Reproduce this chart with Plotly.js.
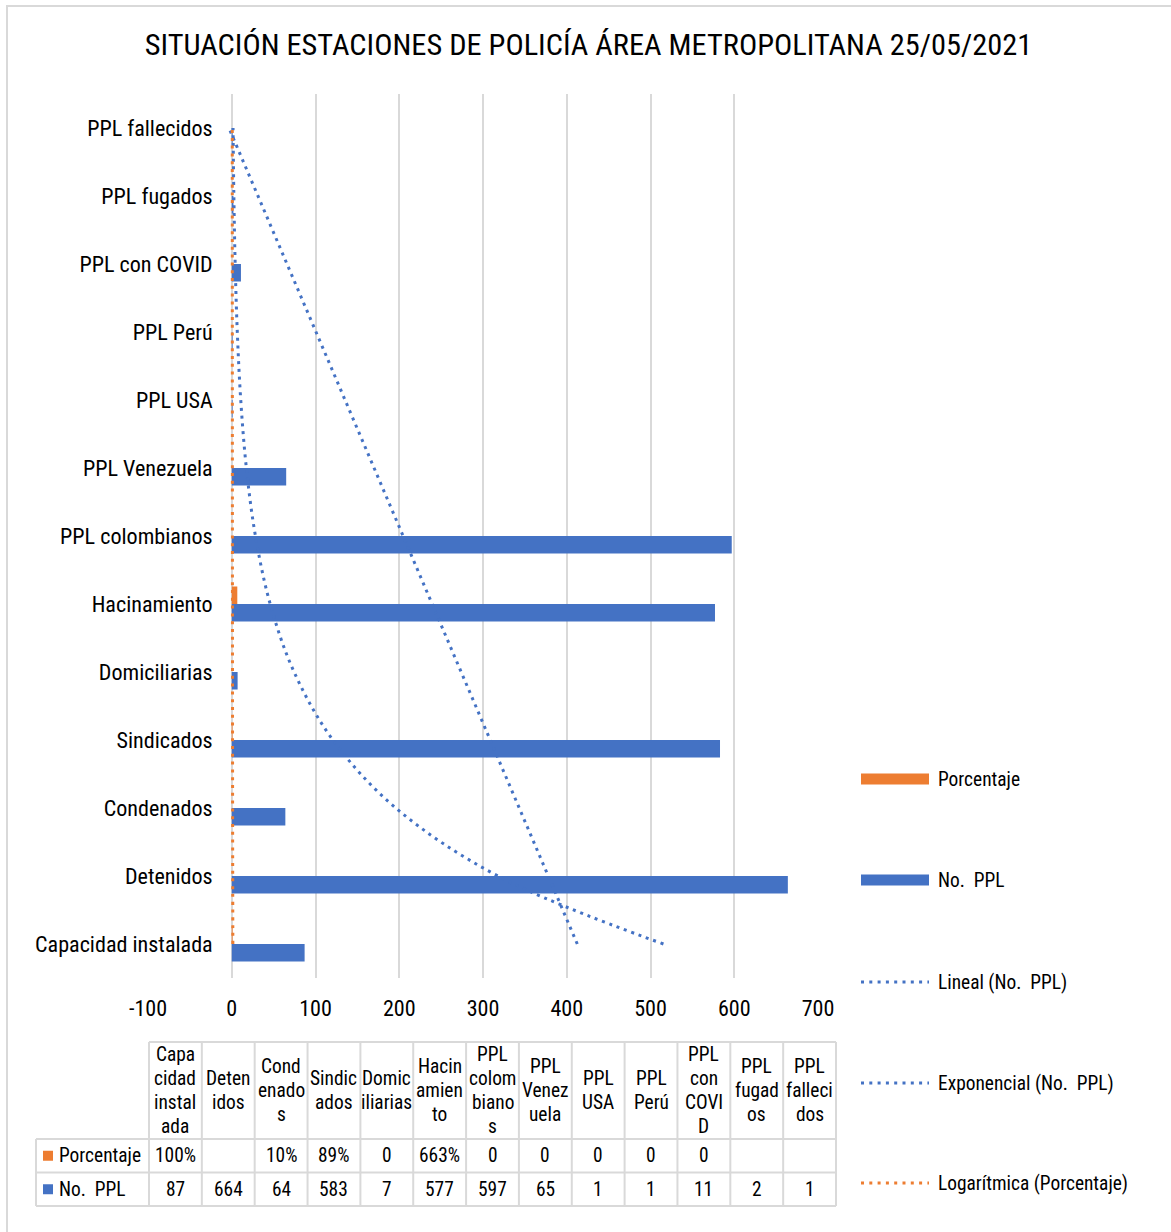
<!DOCTYPE html>
<html><head><meta charset="utf-8">
<script src="https://cdn.plot.ly/plotly-3.0.1.min.js"></script>
<style>html,body{margin:0;padding:0;background:#fff;} #chart{width:1171px;height:1232px;}</style>
</head><body><div id="chart"></div>
<script>
// ---------- data ----------
const categories = ["Capacidad instalada","Detenidos","Condenados","Sindicados","Domiciliarias","Hacinamiento","PPL colombianos","PPL Venezuela","PPL USA","PPL Perú","PPL con COVID","PPL fugados","PPL fallecidos"];
const noPPL = [87,664,64,583,7,577,597,65,1,1,11,2,1];
const porcentaje = [1,null,0.10,0.89,0,6.63,0,0,0,0,0,null,null];
const headerLines = [["Capa","cidad","instal","ada"],["Deten","idos"],["Cond","enado","s"],["Sindic","ados"],["Domic","iliarias"],["Hacin","amien","to"],["PPL","colom","biano","s"],["PPL","Venez","uela"],["PPL","USA"],["PPL","Perú"],["PPL","con","COVI","D"],["PPL","fugad","os"],["PPL","falleci","dos"]];
const xTicks = [-100,0,100,200,300,400,500,600,700];
const seriesNames = ["Porcentaje","No.\u00a0 PPL"];
const trendNames = ["Lineal (No.\u00a0 PPL)","Exponencial (No.\u00a0 PPL)","Logarítmica (Porcentaje)"];
const chartTitle = "SITUACIÓN ESTACIONES DE POLICÍA ÁREA METROPOLITANA 25/05/2021";

// ---------- font selection (a narrow sans face) ----------
const ctx = document.createElement("canvas").getContext("2d");
function wOf(font, s){ ctx.font = font; return ctx.measureText(s).width; }
function hasFont(f){
  const s = "Capacidad instalada 0123 WMiq";
  return wOf("40px '"+f+"', monospace", s) !== wOf("40px monospace", s) &&
         wOf("40px '"+f+"', serif", s) !== wOf("40px serif", s);
}
const candidates = ["Liberation Sans Narrow","Arial Narrow","Roboto Condensed","Noto Sans Condensed","Open Sans Condensed","Liberation Sans","Arial"];
let FACE = "Liberation Sans";
for (const c of candidates){ if (hasFont(c)){ FACE = c; break; } }
const FONT = "'"+FACE+"', sans-serif";
// scale sizes so that text widths match the reference
const SC = Math.min(1.15, Math.max(0.7, 178 / wOf("24px '"+FACE+"', sans-serif", "Capacidad instalada")));
const SCT = Math.min(1.3, Math.max(0.7, 887 / wOf("30px '"+FACE+"', sans-serif", chartTitle)));
const fs = s => Math.round(s*SC*10)/10;

// ---------- styles ----------
const BLUE = "#4472C4", ORANGE = "#ED7D31", GRID = "#d9d9d9", TXT = "#000000";
const W = 1171, H = 1232, L = 148, R = 818, T = 94, B = 978;
const px = v => (v - L) / (R - L);
const py = v => (B - v) / (B - T);

// ---------- trendlines (least squares, as the spreadsheet does) ----------
function fit(xs, ys){
  const n = xs.length;
  const mx = xs.reduce((a,b)=>a+b,0)/n, my = ys.reduce((a,b)=>a+b,0)/n;
  let sxy = 0, sxx = 0;
  for (let i=0;i<n;i++){ sxy += (xs[i]-mx)*(ys[i]-my); sxx += (xs[i]-mx)*(xs[i]-mx); }
  const b = sxy/sxx; return {a: my - b*mx, b};
}
const idx = categories.map((c,i)=>i+1);
const lin = fit(idx, noPPL);
const linY = idx.map(x => lin.a + lin.b*x);
const ex = fit(idx, noPPL.map(v=>Math.log(v)));
const expY = idx.map(x => Math.exp(ex.a + ex.b*x));
const pX = [], pY = [];
porcentaje.forEach((v,i)=>{ if (v !== null){ pX.push(Math.log(i+1)); pY.push(v);} });
const lg = fit(pX, pY);
const logY = idx.map(x => lg.a + lg.b*Math.log(x));

const DOT = "3px,4.8px";
const traces = [
  {type:"bar", orientation:"h", name:seriesNames[1], x:noPPL, y:categories, marker:{color:BLUE, line:{width:0}}, showlegend:false},
  {type:"bar", orientation:"h", name:seriesNames[0], x:porcentaje, y:categories, marker:{color:ORANGE, line:{width:0}}, showlegend:false},
  {type:"scatter", mode:"lines", name:trendNames[0], x:linY, y:categories, line:{color:BLUE, width:3, dash:DOT}, showlegend:false},
  {type:"scatter", mode:"lines", name:trendNames[1], x:expY, y:categories, line:{color:BLUE, width:3, dash:DOT, shape:"spline"}, showlegend:false},
  {type:"scatter", mode:"lines", name:trendNames[2], x:logY, y:categories, line:{color:ORANGE, width:3, dash:DOT, shape:"spline"}, showlegend:false}
];

// ---------- shapes & annotations (legend, data table, frame) ----------
const shapes = [], ann = [];
shapes.push({type:"rect", xref:"paper", yref:"paper", x0:px(7), x1:px(1185), y0:py(6), y1:py(1245), line:{color:GRID, width:2}, fillcolor:"rgba(0,0,0,0)", layer:"below"});

// legend
const legX0 = 861, legX1 = 929, legTX = 936;
const legY = [779, 880, 982, 1083, 1183];
const legNames = [seriesNames[0], seriesNames[1], trendNames[0], trendNames[1], trendNames[2]];
const legCol = [ORANGE, BLUE, BLUE, BLUE, ORANGE];
legY.forEach((y,i)=>{
  if (i < 2) shapes.push({type:"rect", xref:"paper", yref:"paper", x0:px(legX0), x1:px(legX1), y0:py(y-5.5), y1:py(y+5.5), line:{width:0}, fillcolor:legCol[i]});
  else shapes.push({type:"line", xref:"paper", yref:"paper", x0:px(legX0), x1:px(legX1), y0:py(y), y1:py(y), line:{color:legCol[i], width:3, dash:"3px,5.3px"}});
  ann.push({xref:"paper", yref:"paper", x:px(legTX), y:py(y), xanchor:"left", yanchor:"middle", text:legNames[i], showarrow:false, font:{family:FONT, size:fs(21), color:TXT}});
});

// data table
const tX0 = 36, tXc = 149, colW = (836-149)/13;
const tY0 = 1042, tY1 = 1139, tY2 = 1172.5, tY3 = 1206;
const tl = (x0,y0,x1,y1)=>shapes.push({type:"line", xref:"paper", yref:"paper", x0:px(x0), x1:px(x1), y0:py(y0), y1:py(y1), line:{color:GRID, width:2}});
tl(tXc, tY0, 836, tY0);
tl(tX0, tY1, 836, tY1);
tl(tX0, tY2, 836, tY2);
tl(tX0, tY3, 836, tY3);
tl(tX0, tY1, tX0, tY3);
for (let k=0;k<=13;k++) tl(tXc+colW*k, tY0, tXc+colW*k, tY3);
const hdrC = (tY0+tY1)/2, lineH = 24.3;
headerLines.forEach((lines,k)=>{
  const cx = tXc + colW*(k+0.5);
  lines.forEach((s,i)=>{
    ann.push({xref:"paper", yref:"paper", x:px(cx), y:py(hdrC + (i-(lines.length-1)/2)*lineH), xanchor:"center", yanchor:"middle", text:s, showarrow:false, font:{family:FONT, size:fs(21), color:TXT}});
  });
});
const fmtPct = v => v === null ? "" : (v === 0 ? "0" : Math.round(v*100) + "%");
const r1 = (tY1+tY2)/2, r2 = (tY2+tY3)/2;
categories.forEach((c,k)=>{
  const cx = tXc + colW*(k+0.5);
  const t1 = fmtPct(porcentaje[k]);
  if (t1) ann.push({xref:"paper", yref:"paper", x:px(cx), y:py(r1), xanchor:"center", yanchor:"middle", text:t1, showarrow:false, font:{family:FONT, size:fs(21), color:TXT}});
  ann.push({xref:"paper", yref:"paper", x:px(cx), y:py(r2), xanchor:"center", yanchor:"middle", text:String(noPPL[k]), showarrow:false, font:{family:FONT, size:fs(21), color:TXT}});
});
[[r1, ORANGE, seriesNames[0]], [r2, BLUE, seriesNames[1]]].forEach(([y,col,name])=>{
  shapes.push({type:"rect", xref:"paper", yref:"paper", x0:px(43), x1:px(53), y0:py(y-5), y1:py(y+5), line:{width:0}, fillcolor:col});
  ann.push({xref:"paper", yref:"paper", x:px(57), y:py(y), xanchor:"left", yanchor:"middle", text:name, showarrow:false, font:{family:FONT, size:fs(21), color:TXT}});
});

const layout = {
  width:W, height:H,
  paper_bgcolor:"#ffffff", plot_bgcolor:"#ffffff",
  margin:{l:L, r:W-R, t:T, b:H-B, pad:0},
  title:{text:chartTitle, font:{family:FONT, size:Math.round(30*SCT*10)/10, color:TXT}, x:588.5/W, xanchor:"center", xref:"container", y:1-44/H, yanchor:"middle", yref:"container"},
  barmode:"group", bargap:0.485, bargroupgap:0,
  showlegend:false,
  xaxis:{range:[-100,700], tickvals:xTicks, ticktext:xTicks.map(String), showgrid:true, gridcolor:GRID, gridwidth:2, zeroline:false, showline:false, ticks:"", tickfont:{family:FONT, size:fs(24), color:TXT}, ticklabelstandoff:15, automargin:false, fixedrange:true},
  yaxis:{type:"category", categoryarray:categories, categoryorder:"array", range:[-0.5,12.5], anchor:"free", position:px(232.7), showgrid:false, zeroline:false, showline:false, ticks:"", tickfont:{family:FONT, size:fs(24), color:TXT}, ticklabelstandoff:20, automargin:false, fixedrange:true},
  shapes:shapes, annotations:ann
};
Plotly.newPlot("chart", traces, layout, {staticPlot:true, displayModeBar:false});
</script></body></html>
